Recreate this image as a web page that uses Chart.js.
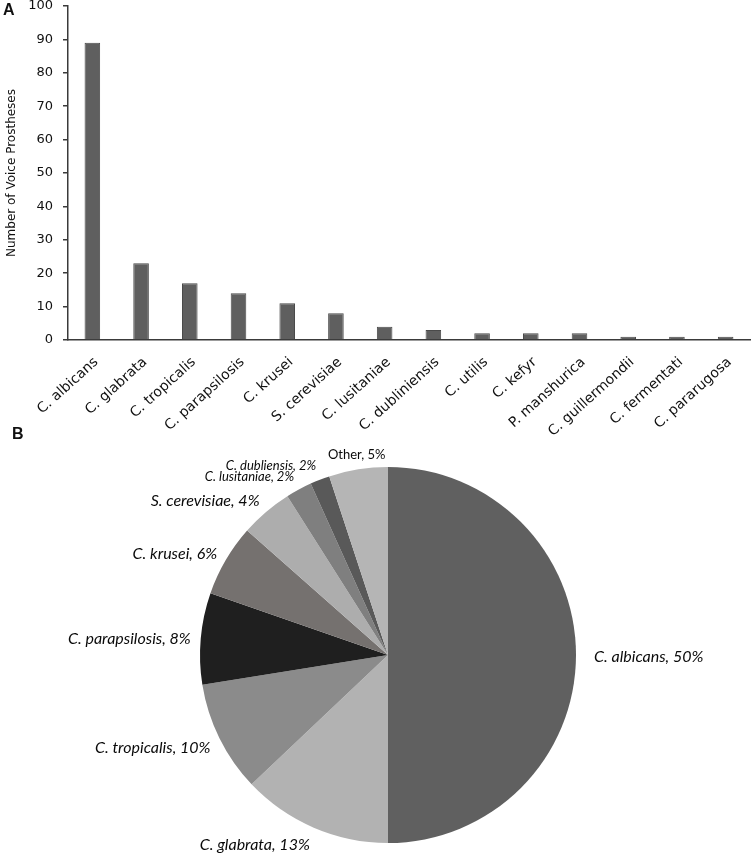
<!DOCTYPE html>
<html><head><meta charset="utf-8">
<script src="https://cdn.jsdelivr.net/npm/chart.js@4.4.0/dist/chart.umd.min.js"></script>
<style>
html,body{margin:0;padding:0;background:#fff;}
body{width:751px;height:857px;position:relative;overflow:hidden;}
#bar{position:absolute;left:0;top:0;}
#pie{position:absolute;left:0;top:440px;}
.panel{position:absolute;font-family:"Liberation Sans",Arial,sans-serif;font-weight:bold;font-size:16px;line-height:16px;color:#111;}
</style></head><body>
<canvas id="bar" width="751" height="440"></canvas>
<canvas id="pie" width="751" height="417"></canvas>
<div class="panel" style="left:3px;top:2px">A</div>
<div class="panel" style="left:12px;top:426px">B</div>
<script>
// ---- Panel A data ----
const species = ["C. albicans","C. glabrata","C. tropicalis","C. parapsilosis","C. krusei","S. cerevisiae","C. lusitaniae","C. dubliniensis","C. utilis","C. kefyr","P. manshurica","C. guillermondii","C. fermentati","C. pararugosa"];
const prosthesisCounts = [89,23,17,14,11,8,4,3,2,2,2,1,1,1];
const yAxisMax = 100;
const yAxisStep = 10;
const yAxisTitle = "Number of Voice Prostheses";

// ---- Panel B data ----
const pieLabels = ["C. albicans","C. glabrata","C. tropicalis","C. parapsilosis","C. krusei","S. cerevisiae","C. lusitaniae","C. dubliensis","Other"];
const pieCounts = [89,23,17,14,11,8,4,3,9];
const piePercents = [50,13,10,8,6,4,2,2,5];
const pieColors = ["#606060","#b2b2b2","#8b8b8b","#1f1f1f","#75716f","#adadad","#7f7f7f","#595959","#b5b5b5"];

const AXIS_FONT = "'DejaVu Sans'";
const PIE_FONT = "Lato";

new Chart(document.getElementById('bar'), {
  type: 'bar',
  data: {
    labels: species,
    datasets: [{
      data: prosthesisCounts,
      backgroundColor: '#5f5f5f',
      borderColor: '#4a4a4a',
      borderWidth: 1,
      categoryPercentage: 1,
      barPercentage: 0.32
    }]
  },
  options: {
    responsive: false,
    animation: false,
    layout: {padding: {left: 0, right: 1, top: 6, bottom: 0}},
    plugins: {legend: {display: false}, tooltip: {enabled: false}},
    scales: {
      x: {
        grid: {display: true, drawOnChartArea: false, drawTicks: false},
        border: {display: true, color: '#3a3a3a', width: 1.5},
        ticks: {maxRotation: 42, minRotation: 42, autoSkip: false, padding: 14, labelOffset: 4, color: '#111', font: {family: AXIS_FONT, size: 14}},
        afterFit(scale) { scale.height = 100; scale.paddingLeft = 0; scale.paddingRight = 0; }
      },
      y: {
        min: 0, max: yAxisMax,
        ticks: {stepSize: yAxisStep, padding: 10, color: '#111', font: {family: AXIS_FONT, size: 13}},
        grid: {display: true, drawOnChartArea: false, drawTicks: true, tickLength: 5, color: '#3a3a3a', lineWidth: 1.5},
        border: {display: true, color: '#3a3a3a', width: 1.5},
        title: {display: true, text: yAxisTitle, color: '#111', font: {family: AXIS_FONT, size: 12}, padding: {top: 5, bottom: 0}},
        afterFit(scale) { scale.width = 68; scale.paddingTop = 0; scale.paddingBottom = 0; }
      }
    }
  }
});

const pieLabelPlugin = {
  id: 'pieOuterLabels',
  afterDatasetsDraw(chart, args, opts) {
    const ctx = chart.ctx;
    const meta = chart.getDatasetMeta(0);
    ctx.save();
    meta.data.forEach((arc, i) => {
      const p = arc.getProps(['x','y','startAngle','endAngle','outerRadius'], true);
      const mid = (p.startAngle + p.endAngle) / 2;
      const c = Math.cos(mid), s = Math.sin(mid);
      const r = p.outerRadius + (c > 0.3 ? opts.padRight : opts.pad);
      const ax = p.x + c * r, ay = p.y + s * r;
      const text = chart.data.labels[i] + ', ' + piePercents[i] + '%';
      const size = opts.sizes[i];
      ctx.font = (opts.italic[i] ? 'italic ' : '') + size + 'px ' + PIE_FONT;
      ctx.fillStyle = '#0a0a0a';
      ctx.textBaseline = 'middle';
      ctx.textAlign = c < -0.3 ? 'right' : (c > 0.3 ? 'left' : 'center');
      ctx.fillText(text, ax, ay + s * 7 + 2);
    });
    ctx.restore();
  }
};

new Chart(document.getElementById('pie'), {
  type: 'pie',
  data: {
    labels: pieLabels,
    datasets: [{data: pieCounts, backgroundColor: pieColors, borderWidth: 0}]
  },
  options: {
    responsive: false,
    animation: false,
    layout: {padding: {left: 200, right: 175, top: 27, bottom: 14}},
    plugins: {
      legend: {display: false},
      tooltip: {enabled: false},
      pieOuterLabels: {
        pad: 10,
        padRight: 18,
        sizes: [16,16,16,16,16,16,13,13,13],
        italic: [true,true,true,true,true,true,true,true,false]
      }
    }
  },
  plugins: [pieLabelPlugin]
});
</script>
</body></html>
